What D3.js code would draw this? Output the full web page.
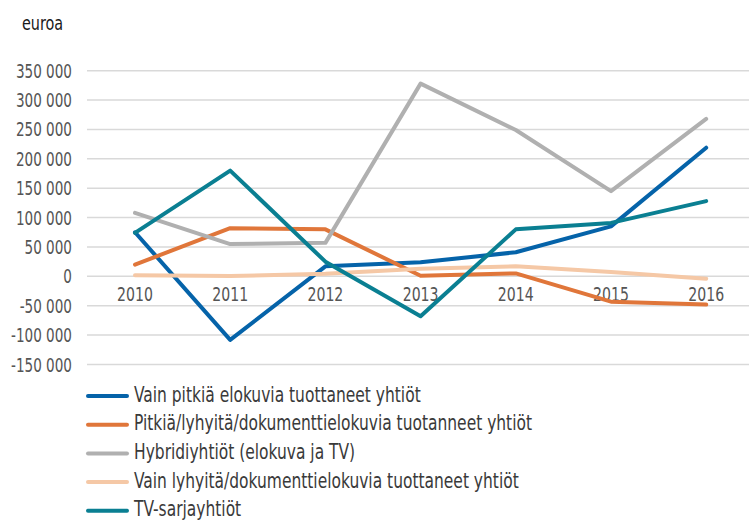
<!DOCTYPE html>
<html>
<head>
<meta charset="utf-8">
<script src="https://cdn.jsdelivr.net/npm/d3@7"></script>
<style>
  html, body { margin: 0; padding: 0; background: #fff; }
  svg text { font-family: "Liberation Sans Narrow", "DejaVu Sans Condensed", sans-serif; }
</style>
</head>
<body>
<div id="chart"></div>
<script>
const years = ['2010', '2011', '2012', '2013', '2014', '2015', '2016'];
const yTicks = [-150000, -100000, -50000, 0, 50000, 100000, 150000, 200000, 250000, 300000, 350000];

const vainPitkia = [75000, -108000, 17000, 24000, 41000, 85000, 219000];
const pitkiaLyhyita = [20000, 82000, 80000, 1000, 5000, -43000, -48000];
const hybridi = [108000, 55000, 57000, 328000, 249000, 145000, 268000];
const vainLyhyita = [2000, 500, 4500, 13000, 17000, 7500, -4000];
const tvSarja = [74000, 180000, 25000, -68000, 80000, 91000, 128000];

const seriesNames = [
  'Vain pitkiä elokuvia tuottaneet yhtiöt',
  'Pitkiä/lyhyitä/dokumenttielokuvia tuotanneet yhtiöt',
  'Hybridiyhtiöt (elokuva ja TV)',
  'Vain lyhyitä/dokumenttielokuvia tuottaneet yhtiöt',
  'TV-sarjayhtiöt'
];
const seriesValues = [vainPitkia, pitkiaLyhyita, hybridi, vainLyhyita, tvSarja];
const colors = ['#0563a9', '#e0763a', '#b0b0b0', '#f5c8a6', '#0a7f92'];

const width = 749, height = 522;

// the reference uses a condensed face, so squeeze text horizontally
const axisSqueeze = 0.77;
const legendSqueeze = 0.82;

const svg = d3.select('#chart')
  .append('svg')
  .attr('width', width)
  .attr('height', height);

// Scales
const x = d3.scalePoint().domain(years).range([87.4, 753.8]).padding(0.5);
const y = d3.scaleLinear().domain([-150000, 350000]).range([364.5, 70.7]);

// Unit label
svg.append('text')
  .attr('transform', `translate(22, 29.5) scale(0.8, 1)`)
  .attr('font-size', 20)
  .attr('fill', '#1a1a1a')
  .text('euroa');

// Gridlines
svg.append('g')
  .selectAll('line')
  .data(yTicks)
  .join('line')
  .attr('x1', 87)
  .attr('x2', width)
  .attr('y1', d => y(d))
  .attr('y2', d => y(d))
  .attr('stroke', '#d9d9d9')
  .attr('stroke-width', 1.5);

// Y axis labels
const fmt = d => d3.format(',')(d).replace(/,/g, ' ').replace('\u2212', '-');
svg.append('g')
  .selectAll('text')
  .data(yTicks)
  .join('text')
  .attr('transform', d => `translate(72, ${y(d) + 7}) scale(${axisSqueeze}, 1)`)
  .attr('text-anchor', 'end')
  .attr('font-size', 19.6)
  .attr('fill', '#555')
  .text(fmt);

// X axis labels (sit just under the zero line)
svg.append('g')
  .selectAll('text')
  .data(years)
  .join('text')
  .attr('transform', d => `translate(${x(d)}, ${y(0) + 25}) scale(0.8, 1)`)
  .attr('text-anchor', 'middle')
  .attr('font-size', 19.6)
  .attr('fill', '#555')
  .text(d => d);

// Lines
const line = d3.line()
  .x((d, i) => x(years[i]))
  .y(d => y(d));

svg.append('g')
  .selectAll('path')
  .data(seriesValues)
  .join('path')
  .attr('fill', 'none')
  .attr('stroke', (d, i) => colors[i])
  .attr('stroke-width', 4)
  .attr('stroke-linejoin', 'round')
  .attr('stroke-linecap', 'round')
  .attr('d', line);

// Legend
const legend = svg.append('g')
  .selectAll('g')
  .data(seriesNames)
  .join('g')
  .attr('transform', (d, i) => `translate(0, ${396 + i * 28.7})`);

legend.append('line')
  .attr('x1', 88)
  .attr('x2', 127)
  .attr('stroke', (d, i) => colors[i])
  .attr('stroke-width', 4)
  .attr('stroke-linecap', 'round');

legend.append('text')
  .attr('transform', `translate(134, 5.5) scale(${legendSqueeze}, 1)`)
  .attr('font-size', 21)
  .attr('fill', '#3a3a3a')
  .text(d => d);
</script>
</body>
</html>
